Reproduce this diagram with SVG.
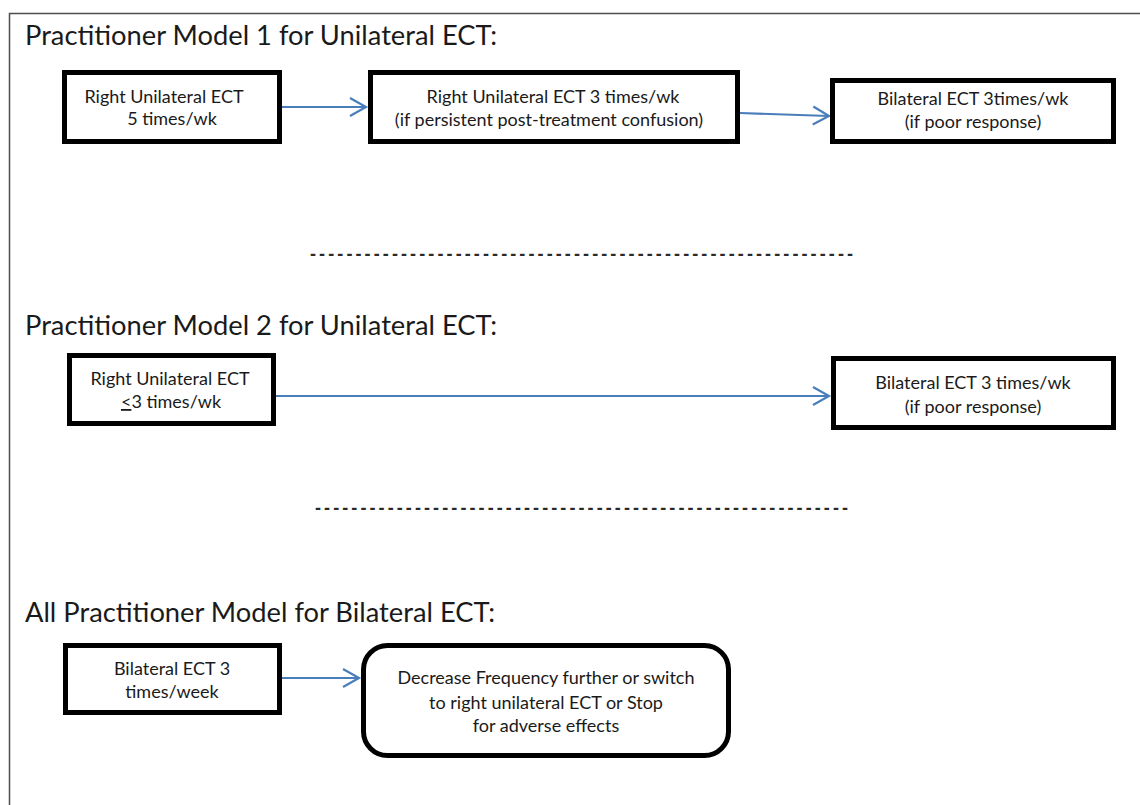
<svg xmlns="http://www.w3.org/2000/svg" width="1140" height="805" viewBox="0 0 1140 805">
<style>
.bg{fill:#ffffff}
.frame{fill:none;stroke:#4d4d4d;stroke-width:1.5}
.box{fill:#ffffff;stroke:#000000;stroke-width:5}
.title{font-family:Lato,"Liberation Sans",sans-serif;font-size:27.3px;fill:#1a1a1a}
.lbl{font-family:Lato,"Liberation Sans",sans-serif;font-size:18px;fill:#1a1a1a;text-anchor:middle}
.dash{font-family:"Liberation Sans",sans-serif;font-size:18px;font-weight:bold;fill:#2a2a2a}
.conn{fill:none;stroke:#4a7ebb;stroke-width:2.2}
</style>
<defs>
<marker id="arr" markerUnits="userSpaceOnUse" markerWidth="24" markerHeight="24" viewBox="-20 -12 24 24" refX="0" refY="0" orient="auto">
<path d="M-16,-9 L0,0 L-16,9" fill="none" stroke="#4a7ebb" stroke-width="2.2"/>
</marker>
</defs>
<rect class="bg" x="0" y="0" width="1140" height="805"/>
<path class="frame" d="M9.5,805 L9.5,13.5 L1140,13.5"/>

<text class="title" x="25" y="45">Practitioner Model 1 for Unilateral ECT:</text>
<text class="title" x="25" y="335">Practitioner Model 2 for Unilateral ECT:</text>
<text class="title" x="25" y="622">All Practitioner Model for Bilateral ECT:</text>

<text class="dash" x="310" y="260" textLength="543" lengthAdjust="spacing">------------------------------------------------------------</text>
<text class="dash" x="315" y="514" textLength="533" lengthAdjust="spacing">-----------------------------------------------------------</text>

<g id="connectors">
<path class="conn" d="M282,107 L366,107" marker-end="url(#arr)"/>
<path class="conn" d="M740,113 L829,116" marker-end="url(#arr)"/>
<path class="conn" d="M276,396 L829,396" marker-end="url(#arr)"/>
<path class="conn" d="M282,678 L359,678" marker-end="url(#arr)"/>
</g>

<g id="m1_rul5">
<rect class="box" x="64.5" y="72.5" width="215" height="69"/>
<text class="lbl" x="164" y="103">Right Unilateral ECT</text>
<text class="lbl" x="172" y="125">5 times/wk</text>
</g>
<g id="m1_rul3">
<rect class="box" x="370.5" y="72.5" width="367" height="69"/>
<text class="lbl" x="553" y="103">Right Unilateral ECT 3 times/wk</text>
<text class="lbl" x="549" y="126">(if persistent post-treatment confusion)</text>
</g>
<g id="m1_bil">
<rect class="box" x="832.5" y="80.5" width="281" height="61"/>
<text class="lbl" x="973" y="105">Bilateral ECT 3times/wk</text>
<text class="lbl" x="973" y="128">(if poor response)</text>
</g>

<g id="m2_rul">
<rect class="box" x="69.5" y="355.5" width="204" height="68"/>
<text class="lbl" x="170" y="385">Right Unilateral ECT</text>
<text class="lbl" x="171" y="408"><tspan text-decoration="underline">&lt;</tspan>3 times/wk</text>
</g>
<g id="m2_bil">
<rect class="box" x="833.5" y="358.5" width="280" height="69"/>
<text class="lbl" x="973" y="389">Bilateral ECT 3 times/wk</text>
<text class="lbl" x="973" y="413">(if poor response)</text>
</g>

<g id="m3_bil">
<rect class="box" x="65.5" y="645.5" width="214" height="67"/>
<text class="lbl" x="172" y="675">Bilateral ECT 3</text>
<text class="lbl" x="172" y="698">times/week</text>
</g>
<g id="m3_decrease">
<rect class="box" x="363.5" y="645.5" width="365" height="110" rx="24" ry="24"/>
<text class="lbl" x="546" y="684">Decrease Frequency further or switch</text>
<text class="lbl" x="546" y="709">to right unilateral ECT or Stop</text>
<text class="lbl" x="546" y="732">for adverse effects</text>
</g>
</svg>
